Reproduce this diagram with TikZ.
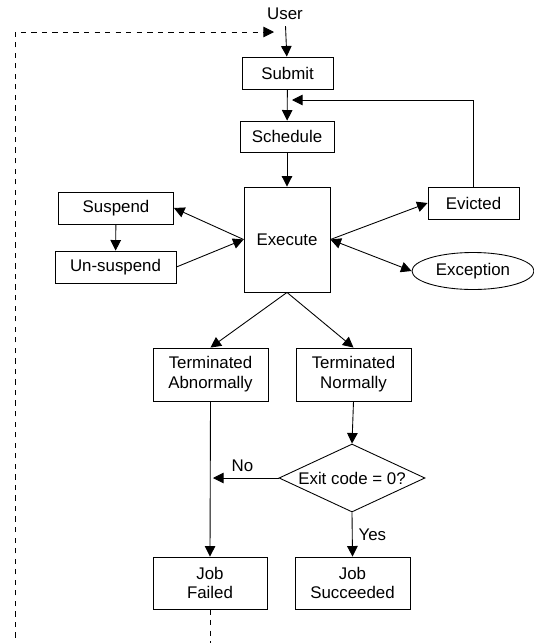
\documentclass[tikz,border=0pt]{standalone}
\usepackage{fontspec}
\setmainfont{Liberation Sans}
\usetikzlibrary{arrows.meta,shapes.geometric}
\tikzset{
    stage/.style={draw,line width=0.5pt,inner sep=0pt,align=center},
    tip/.tip={Triangle[length=6pt,width=6pt]},
    flow/.style={line width=0.5pt,-tip},
}

\begin{document}
\begin{tikzpicture}[x=0.02cm,y=-0.02cm,font=\fontsize{9.6pt}{11.3pt}\selectfont]
            \useasboundingbox (0,0) rectangle (534,643);
            \clip (0,0) rectangle (534,643);

            \node (user)     at (285,14)    {User};
            \node[stage,minimum width=1.82cm,minimum height=0.64cm] (submit) at (287.5,73)  {Submit};
            \node[stage,minimum width=1.88cm,minimum height=0.62cm] (sched)  at (287,136.5) {Schedule};
            \node[stage,minimum width=1.72cm,minimum height=2.1cm]  (exec)   at (287,239.5) {Execute};
            \node[stage,minimum width=2.3cm,minimum height=0.64cm]  (susp)   at (116,208)   {Suspend};
            \node[stage,minimum width=2.42cm,minimum height=0.64cm] (unsusp) at (115.5,267) {Un-suspend};
            \node[stage,minimum width=1.82cm,minimum height=0.64cm] (evict)  at (473.5,203) {Evicted};
            \node[stage,ellipse,minimum width=2.44cm,minimum height=0.74cm] (except) at (473,271) {Exception};
            \node[stage,minimum width=2.3cm,minimum height=1.06cm]  (termab)   at (210.5,374.5) {Terminated\\Abnormally};
            \node[stage,minimum width=2.3cm,minimum height=1.06cm]  (termnorm) at (353.5,374.5) {Terminated\\Normally};
            \node[stage,diamond,aspect=2.15,minimum width=2.92cm,minimum height=1.36cm] (exit) at (352,478) {Exit code = 0?};
            \node[stage,minimum width=2.28cm,minimum height=1.04cm] (failed)  at (210,583)   {Job\\Failed};
            \node[stage,minimum width=2.3cm,minimum height=1.04cm]  (success) at (352.5,583) {Job\\Succeeded};

            \coordinate (join) at (292,100);
            \coordinate (back) at (274,32);
            \coordinate (nohit) at (213,478);

            \draw[flow] (user) -- (submit);
            \draw[flow] (submit) -- (sched);
            \draw[flow] (sched) -- (exec);
            \draw[flow] (exec.west) -- (susp.east);
            \draw[flow] (unsusp.east) -- (exec.west);
            \draw[flow] (susp) -- (unsusp);
            \draw[flow] (exec.east) -- (evict.west);
            \draw[flow,tip-tip] (exec.east) -- (except.west);
            \draw[flow] (evict.north) |- (join);
            \draw[flow] (exec.south) -- (termab.north);
            \draw[flow] (exec.south) -- (termnorm.north);
            \draw[flow] (termnorm.south) -- (exit.north);
            \draw[flow] (termab.south) -- (failed.north);
            \draw[flow] (exit.west) -- node[above,pos=0.55] {No} (nohit);
            \draw[flow] (exit.south) -- node[right,pos=0.5] {Yes} (success.north);

            % resubmit
            \draw[flow,dashed] (failed.south) -- ++(0,80) -| (15,32) -- (back);
        \end{tikzpicture}
\end{document}
